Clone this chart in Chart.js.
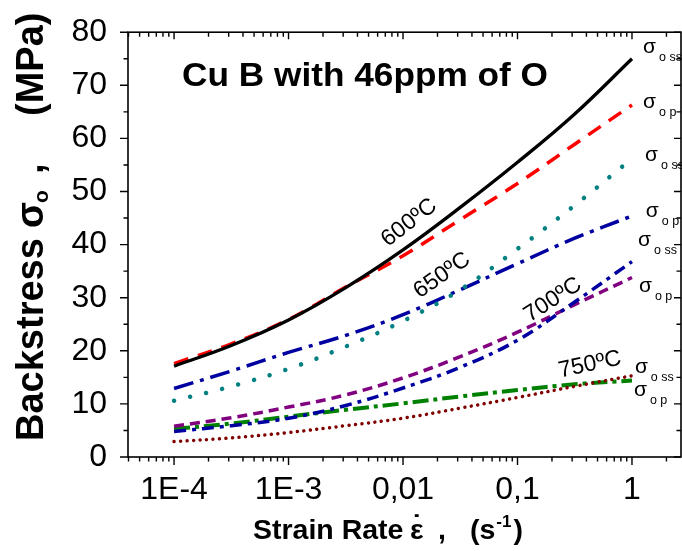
<!DOCTYPE html>
<html><head><meta charset="utf-8">
<script src="https://cdn.jsdelivr.net/npm/chart.js@4.4.0/dist/chart.umd.min.js"></script>
<style>html,body{margin:0;padding:0;background:#fff;}#wrap{width:682px;height:551px;}</style>
</head><body><div id="wrap"><canvas id="c" width="682" height="551"></canvas></div>
<script>
// ---- data ----
const strainRate = [1e-4, 3.16e-4, 1e-3, 3.16e-3, 0.01, 0.0316, 0.1, 0.316, 1];
const s600_oss = [17.1, 21.0, 25.8, 31.9, 39.0, 47.0, 55.5, 64.6, 75.0];
const s600_op  = [17.6, 21.3, 25.9, 32.0, 37.9, 44.7, 51.5, 58.9, 66.3];
const s650_oss = [10.6, 13.3, 16.6, 20.8, 25.6, 31.5, 39.2, 47.4, 56.2];
const s650_op  = [12.9, 16.2, 19.7, 22.9, 26.8, 31.5, 36.4, 41.2, 45.4];
const s700_oss = [4.8, 5.9, 7.3, 9.7, 13.0, 16.9, 22.0, 29.2, 36.8];
const s700_op  = [5.8, 7.4, 9.4, 11.7, 14.9, 18.9, 23.5, 28.7, 33.8];
const s750_oss = [2.9, 3.6, 4.6, 5.9, 7.3, 9.2, 11.2, 13.3, 15.3];
const s750_op  = [5.3, 6.3, 7.6, 8.9, 10.1, 11.4, 12.6, 13.7, 14.4];

const xTickValues = [1e-4, 1e-3, 1e-2, 1e-1, 1];
const xTickLabels = ['1E-4', '1E-3', '0,01', '0,1', '1'];
const yTickValues = [0, 10, 20, 30, 40, 50, 60, 70, 80];
const yTickLabels = ['0', '10', '20', '30', '40', '50', '60', '70', '80'];

const titleText = 'Cu B with 46ppm of O';
const tempLabels = ['600ºC', '650ºC', '700ºC', '750ºC'];
const sigmaSubs = ['o ss', 'o p', 'o ss', 'o p', 'o ss', 'o p', 'o ss', 'o p'];

// ---- placement / style (kept apart from data) ----
const FONT = "'Liberation Sans', Arial, sans-serif";
const tempLabelPlace = [
  {x: 0.0113, y: 44.1, rot: -38},
  {x: 0.0219, y: 34.2, rot: -35},
  {x: 0.204, y: 29.6, rot: -33},
  {x: 0.43, y: 17.4, rot: -12}
];
const sigmaPlace = [
  {x: 1.25, y: 76.0}, {x: 1.25, y: 65.7}, {x: 1.30, y: 55.7}, {x: 1.32, y: 45.2},
  {x: 1.13, y: 39.7}, {x: 1.15, y: 31.1}, {x: 1.06, y: 15.8}, {x: 1.04, y: 11.5}
];

const series = [
  {data: s600_oss, color: '#000000', dash: [], w: 3.3, cap: 'butt'},
  {data: s600_op, color: '#ff0000', dash: [15, 10], w: 3.5, cap: 'butt'},
  {data: s650_oss, color: '#008080', dash: [0.01, 16.5], w: 4.5, cap: 'round'},
  {data: s650_op, color: '#0000a0', dash: [20, 7, 4, 7], w: 3.5, cap: 'butt'},
  {data: s700_oss, color: '#0000a0', dash: [12, 6, 4, 6], w: 3.5, cap: 'butt'},
  {data: s700_op, color: '#800080', dash: [10, 6], w: 3.5, cap: 'butt'},
  {data: s750_oss, color: '#800000', dash: [0.01, 6.5], w: 3.5, cap: 'round'},
  {data: s750_op, color: '#008000', dash: [16, 5, 4, 5], w: 4, cap: 'butt'}
];

const frame = {
  id: 'frame',
  afterDraw(chart) {
    const {ctx, chartArea: a, scales: {x, y}} = chart;
    ctx.save();
    ctx.strokeStyle = '#000';
    ctx.lineWidth = 1.6;
    ctx.strokeRect(a.left, a.top, a.right - a.left, a.bottom - a.top);
    ctx.lineWidth = 1.4;
    ctx.beginPath();
    for (let e = -5; e <= 1; e++) {
      for (let m = 1; m <= 9; m++) {
        const v = m * Math.pow(10, e);
        if (v < x.min || v > x.max) continue;
        const px = x.getPixelForValue(v);
        const major = m === 1;
        ctx.moveTo(px, a.bottom); ctx.lineTo(px, a.bottom + (major ? 8 : 4.5));
        ctx.moveTo(px, a.top); ctx.lineTo(px, a.top + (major ? 7 : 4.5));
      }
    }
    for (let v = 0; v <= 80; v += 5) {
      const py = y.getPixelForValue(v);
      const major = v % 10 === 0;
      ctx.moveTo(a.left, py); ctx.lineTo(a.left - (major ? 8 : 4.5), py);
      ctx.moveTo(a.right, py); ctx.lineTo(a.right - (major ? 7 : 4.5), py);
    }
    ctx.stroke();
    ctx.restore();
  }
};

const texts = {
  id: 'texts',
  afterDraw(chart) {
    const {ctx, scales: {x, y}} = chart;
    ctx.save();
    ctx.fillStyle = '#000';
    ctx.textBaseline = 'alphabetic';
    // inner title
    ctx.save();
    ctx.font = 'bold 33px ' + FONT;
    ctx.textAlign = 'center';
    ctx.translate(365, 86);
    ctx.scale(1.067, 1);
    ctx.fillText(titleText, 0, 0);
    ctx.restore();
    // temperature labels
    ctx.font = '23px ' + FONT;
    tempLabels.forEach((t, i) => {
      const p = tempLabelPlace[i];
      ctx.save();
      ctx.translate(x.getPixelForValue(p.x), y.getPixelForValue(p.y));
      ctx.rotate(p.rot * Math.PI / 180);
      ctx.textAlign = 'center';
      ctx.textBaseline = 'middle';
      ctx.fillText(t, 0, 0);
      ctx.restore();
    });
    // sigma labels
    ctx.textAlign = 'left';
    sigmaSubs.forEach((s, i) => {
      const p = sigmaPlace[i];
      const px = x.getPixelForValue(p.x), py = y.getPixelForValue(p.y);
      ctx.font = '21px ' + FONT;
      ctx.fillText('σ', px, py);
      const w = ctx.measureText('σ').width;
      ctx.font = '12.5px ' + FONT;
      ctx.fillText(s, px + w + 3, py + 8);
    });
    // y axis title
    const yParts = [
      {t: 'Backstress', off: 0, f: 'bold 38px ', dx: 0},
      {t: 'σ', off: 213, f: 'bold 38px ', dx: 0},
      {t: 'o', off: 238, f: 'bold 21px ', dx: 5},
      {t: ',', off: 267, f: 'bold 38px ', dx: 0},
      {t: '(MPa)', off: 325, f: 'bold 38px ', dx: 0}
    ];
    yParts.forEach(p => {
      ctx.save();
      ctx.translate(43 + p.dx, 441 - p.off);
      ctx.rotate(-Math.PI / 2);
      ctx.font = p.f + FONT;
      ctx.textAlign = 'left';
      ctx.fillText(p.t, 0, 0);
      ctx.restore();
    });
    // x axis title
    const base = 539;
    ctx.textAlign = 'left';
    ctx.font = 'bold 28.5px ' + FONT;
    ctx.fillText('Strain Rate', 253, base);
    ctx.fillText('ε', 410, base);
    const ew = ctx.measureText('ε').width;
    ctx.textAlign = 'center';
    ctx.fillText('˙', 410 + ew / 2, base - 5);
    ctx.textAlign = 'left';
    ctx.fillText(',', 438, base);
    ctx.fillText('(s', 470, base);
    let cx = 470 + ctx.measureText('(s').width + 1;
    ctx.font = 'bold 17px ' + FONT;
    ctx.fillText('-1', cx, base - 12);
    cx += ctx.measureText('-1').width + 2;
    ctx.font = 'bold 28.5px ' + FONT;
    ctx.fillText(')', cx, base);
    ctx.restore();
  }
};

new Chart(document.getElementById('c'), {
  type: 'line',
  data: {
    labels: strainRate,
    datasets: series.map(s => ({
      data: strainRate.map((v, i) => ({x: v, y: s.data[i]})),
      borderColor: s.color,
      borderWidth: s.w,
      borderDash: s.dash,
      borderCapStyle: s.cap,
      fill: false,
      pointRadius: 0,
      tension: 0.4
    }))
  },
  options: {
    responsive: false,
    animation: false,
    devicePixelRatio: 1,
    layout: {padding: {top: 22, right: 1, left: 0, bottom: 0}},
    plugins: {legend: {display: false}, tooltip: {enabled: false}, title: {display: false}},
    scales: {
      x: {
        type: 'logarithmic', min: 3.96e-5, max: 2.68,
        grid: {display: false}, border: {display: false},
        afterBuildTicks: s => { s.ticks = xTickValues.map(v => ({value: v})); },
        ticks: {
          callback: (v, i) => xTickLabels[i],
          font: {family: FONT, size: 32}, color: '#000', padding: 6,
          maxRotation: 0, autoSkip: false
        },
        afterFit: s => { s.height = 94; }
      },
      y: {
        type: 'linear', min: 0, max: 80,
        grid: {display: false}, border: {display: false},
        afterBuildTicks: s => { s.ticks = yTickValues.map(v => ({value: v})); },
        ticks: {
          callback: (v, i) => yTickLabels[i],
          font: {family: FONT, size: 32}, color: '#000', padding: 13
        },
        afterFit: s => { s.width = 128; }
      }
    }
  },
  plugins: [frame, texts]
});
</script>
</body></html>
